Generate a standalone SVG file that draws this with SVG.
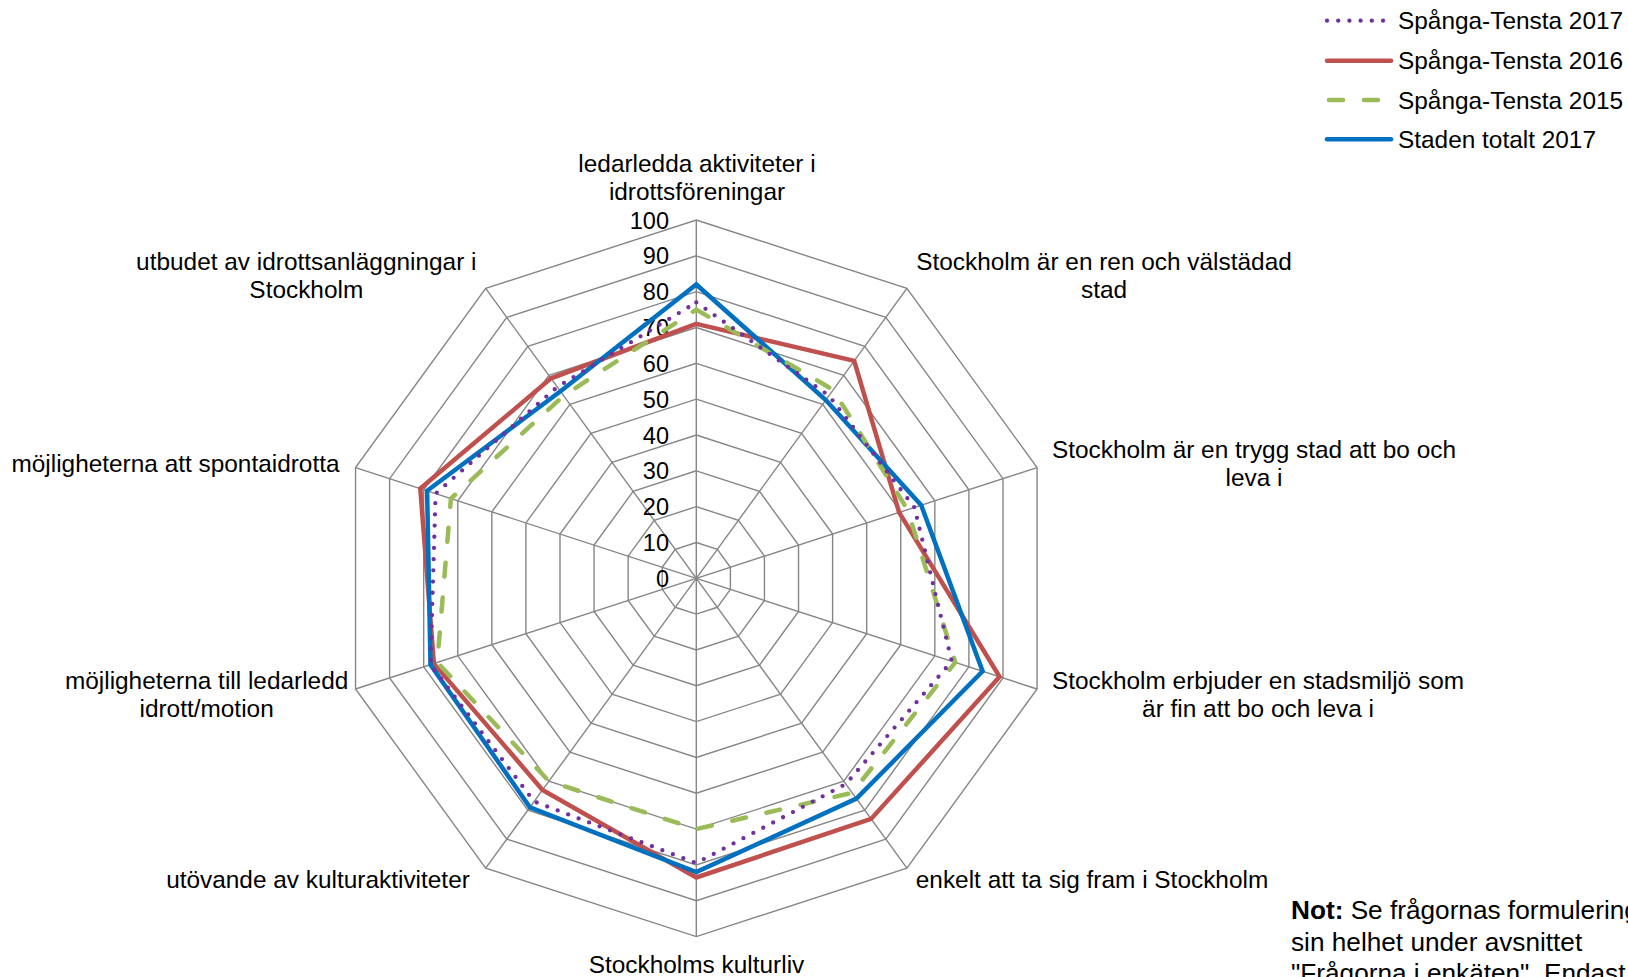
<svg xmlns="http://www.w3.org/2000/svg" width="1628" height="977" viewBox="0 0 1628 977">
<style>
text{font-family:"Liberation Sans",Arial,sans-serif;fill:#000}
.lbl{font-size:24.4px;text-anchor:middle}
.tick{font-size:23.5px;text-anchor:end}
.leg{font-size:24.4px}
.note{font-size:26.2px}
.grid polygon{fill:none;stroke:#868686;stroke-width:1.4}
.grid line{stroke:#868686;stroke-width:1.4}
.s{fill:none;stroke-linejoin:miter}
.p2017{stroke:#7030A0;stroke-width:4.3;stroke-dasharray:0 11.2;stroke-linecap:round}
.p2016{stroke:#C0504D;stroke-width:4.5}
.p2015{stroke:#9BBB59;stroke-width:4.5;stroke-dasharray:14 21;stroke-linecap:round}
.ptot{stroke:#0070C0;stroke-width:4.5}
</style>
<rect width="1628" height="977" fill="#fff"/>
<g id="grid" class="grid" transform="translate(696.3,578.3)">
<polygon points="0,-35.83 21.06,-28.99 34.08,-11.07 34.08,11.07 21.06,28.99 0,35.83 -21.06,28.99 -34.08,11.07 -34.08,-11.07 -21.06,-28.99"/>
<polygon points="0,-71.66 42.12,-57.97 68.15,-22.14 68.15,22.14 42.12,57.97 0,71.66 -42.12,57.97 -68.15,22.14 -68.15,-22.14 -42.12,-57.97"/>
<polygon points="0,-107.49 63.18,-86.96 102.23,-33.22 102.23,33.22 63.18,86.96 0,107.49 -63.18,86.96 -102.23,33.22 -102.23,-33.22 -63.18,-86.96"/>
<polygon points="0,-143.32 84.24,-115.95 136.31,-44.29 136.31,44.29 84.24,115.95 0,143.32 -84.24,115.95 -136.31,44.29 -136.31,-44.29 -84.24,-115.95"/>
<polygon points="0,-179.15 105.3,-144.94 170.38,-55.36 170.38,55.36 105.3,144.94 0,179.15 -105.3,144.94 -170.38,55.36 -170.38,-55.36 -105.3,-144.94"/>
<polygon points="0,-214.98 126.36,-173.92 204.46,-66.43 204.46,66.43 126.36,173.92 0,214.98 -126.36,173.92 -204.46,66.43 -204.46,-66.43 -126.36,-173.92"/>
<polygon points="0,-250.81 147.42,-202.91 238.53,-77.51 238.53,77.51 147.42,202.91 0,250.81 -147.42,202.91 -238.53,77.51 -238.53,-77.51 -147.42,-202.91"/>
<polygon points="0,-286.64 168.48,-231.9 272.61,-88.58 272.61,88.58 168.48,231.9 0,286.64 -168.48,231.9 -272.61,88.58 -272.61,-88.58 -168.48,-231.9"/>
<polygon points="0,-322.47 189.54,-260.88 306.69,-99.65 306.69,99.65 189.54,260.88 0,322.47 -189.54,260.88 -306.69,99.65 -306.69,-99.65 -189.54,-260.88"/>
<polygon points="0,-358.3 210.6,-289.87 340.76,-110.72 340.76,110.72 210.6,289.87 0,358.3 -210.6,289.87 -340.76,110.72 -340.76,-110.72 -210.6,-289.87"/>
<line x1="0" y1="0" x2="0" y2="-358.3"/>
<line x1="0" y1="0" x2="210.6" y2="-289.87"/>
<line x1="0" y1="0" x2="340.76" y2="-110.72"/>
<line x1="0" y1="0" x2="340.76" y2="110.72"/>
<line x1="0" y1="0" x2="210.6" y2="289.87"/>
<line x1="0" y1="0" x2="0" y2="358.3"/>
<line x1="0" y1="0" x2="-210.6" y2="289.87"/>
<line x1="0" y1="0" x2="-340.76" y2="110.72"/>
<line x1="0" y1="0" x2="-340.76" y2="-110.72"/>
<line x1="0" y1="0" x2="-210.6" y2="-289.87"/>
</g>
<g id="ticks">
<text class="tick" x="669" y="586.8">0</text>
<text class="tick" x="669" y="551">10</text>
<text class="tick" x="669" y="515.1">20</text>
<text class="tick" x="669" y="479.3">30</text>
<text class="tick" x="669" y="443.5">40</text>
<text class="tick" x="669" y="407.7">50</text>
<text class="tick" x="669" y="371.9">60</text>
<text class="tick" x="669" y="336">70</text>
<text class="tick" x="669" y="300.2">80</text>
<text class="tick" x="669" y="264.4">90</text>
<text class="tick" x="669" y="228.5">100</text>
</g>
<g id="connectors" transform="translate(696.3,578.3)">
<polygon class="s p2016" points="0,-254.4 157.9,-217.4 202.8,-65.9 303.3,98.5 174.8,240.6 0,299.2 -153.8,211.6 -262.4,85.3 -276,-89.7 -145.3,-200"/>
<polygon class="s ptot" points="0,-293.8 129.5,-178.3 224.9,-73.1 286.3,93 160.1,220.3 0,293.8 -166.4,229 -265.8,86.4 -269.2,-87.5 -135.8,-187"/>
<polygon class="s p2015" points="0,-268.7 136.9,-188.4 211.2,-68.6 259,84.1 155.8,214.5 0,250.8 -147.4,202.9 -259,84.1 -245.4,-79.7 -132.7,-182.6"/>
<polygon class="s p2017" points="0,-275.9 132.7,-182.6 218.1,-70.9 255.5,83 149.5,205.8 0,284.8 -162.2,223.2 -265.8,86.4 -260.7,-84.7 -139,-191.3"/>
</g>
<g id="label-0"><text class="lbl" x="697" y="171.5">ledarledda aktiviteter i</text><text class="lbl" x="697" y="199.5">idrottsföreningar</text></g>
<g id="label-1"><text class="lbl" x="1104" y="270">Stockholm är en ren och välstädad</text><text class="lbl" x="1104" y="298">stad</text></g>
<g id="label-2"><text class="lbl" x="1254" y="458">Stockholm är en trygg stad att bo och</text><text class="lbl" x="1254" y="486">leva i</text></g>
<g id="label-3"><text class="lbl" x="1258" y="688.5">Stockholm erbjuder en stadsmiljö som</text><text class="lbl" x="1258" y="716.5">är fin att bo och leva i</text></g>
<g id="label-4"><text class="lbl" x="1092" y="888">enkelt att ta sig fram i Stockholm</text></g>
<g id="label-5"><text class="lbl" x="696.5" y="973">Stockholms kulturliv</text></g>
<g id="label-6"><text class="lbl" x="318" y="888">utövande av kulturaktiviteter</text></g>
<g id="label-7"><text class="lbl" x="206.6" y="688.5">möjligheterna till ledarledd</text><text class="lbl" x="206.6" y="716.5">idrott/motion</text></g>
<g id="label-8"><text class="lbl" x="175.5" y="471.5">möjligheterna att spontaidrotta</text></g>
<g id="label-9"><text class="lbl" x="306.3" y="270">utbudet av idrottsanläggningar i</text><text class="lbl" x="306.3" y="298">Stockholm</text></g>
<g id="legend">
<line class="s p2017" x1="1327" y1="20.7" x2="1389" y2="20.7"/>
<text class="leg" x="1398" y="29.3">Spånga-Tensta 2017</text>
<line class="s p2016" x1="1327" y1="60.7" x2="1391" y2="60.7" stroke-linecap="round"/>
<text class="leg" x="1398" y="69.3">Spånga-Tensta 2016</text>
<line class="s p2015" x1="1329" y1="100" x2="1391" y2="100"/>
<text class="leg" x="1398" y="109">Spånga-Tensta 2015</text>
<line class="s ptot" x1="1327" y1="139.3" x2="1391" y2="139.3" stroke-linecap="round"/>
<text class="leg" x="1398" y="148.3">Staden totalt 2017</text>
</g>
<g id="note">
<text class="note" x="1291" y="919"><tspan font-weight="bold">Not:</tspan> Se frågornas formulering i</text>
<text class="note" x="1291" y="950.7">sin helhet under avsnittet</text>
<text class="note" x="1291" y="982.4">"Frågorna i enkäten". Endast</text>
</g>
</svg>
